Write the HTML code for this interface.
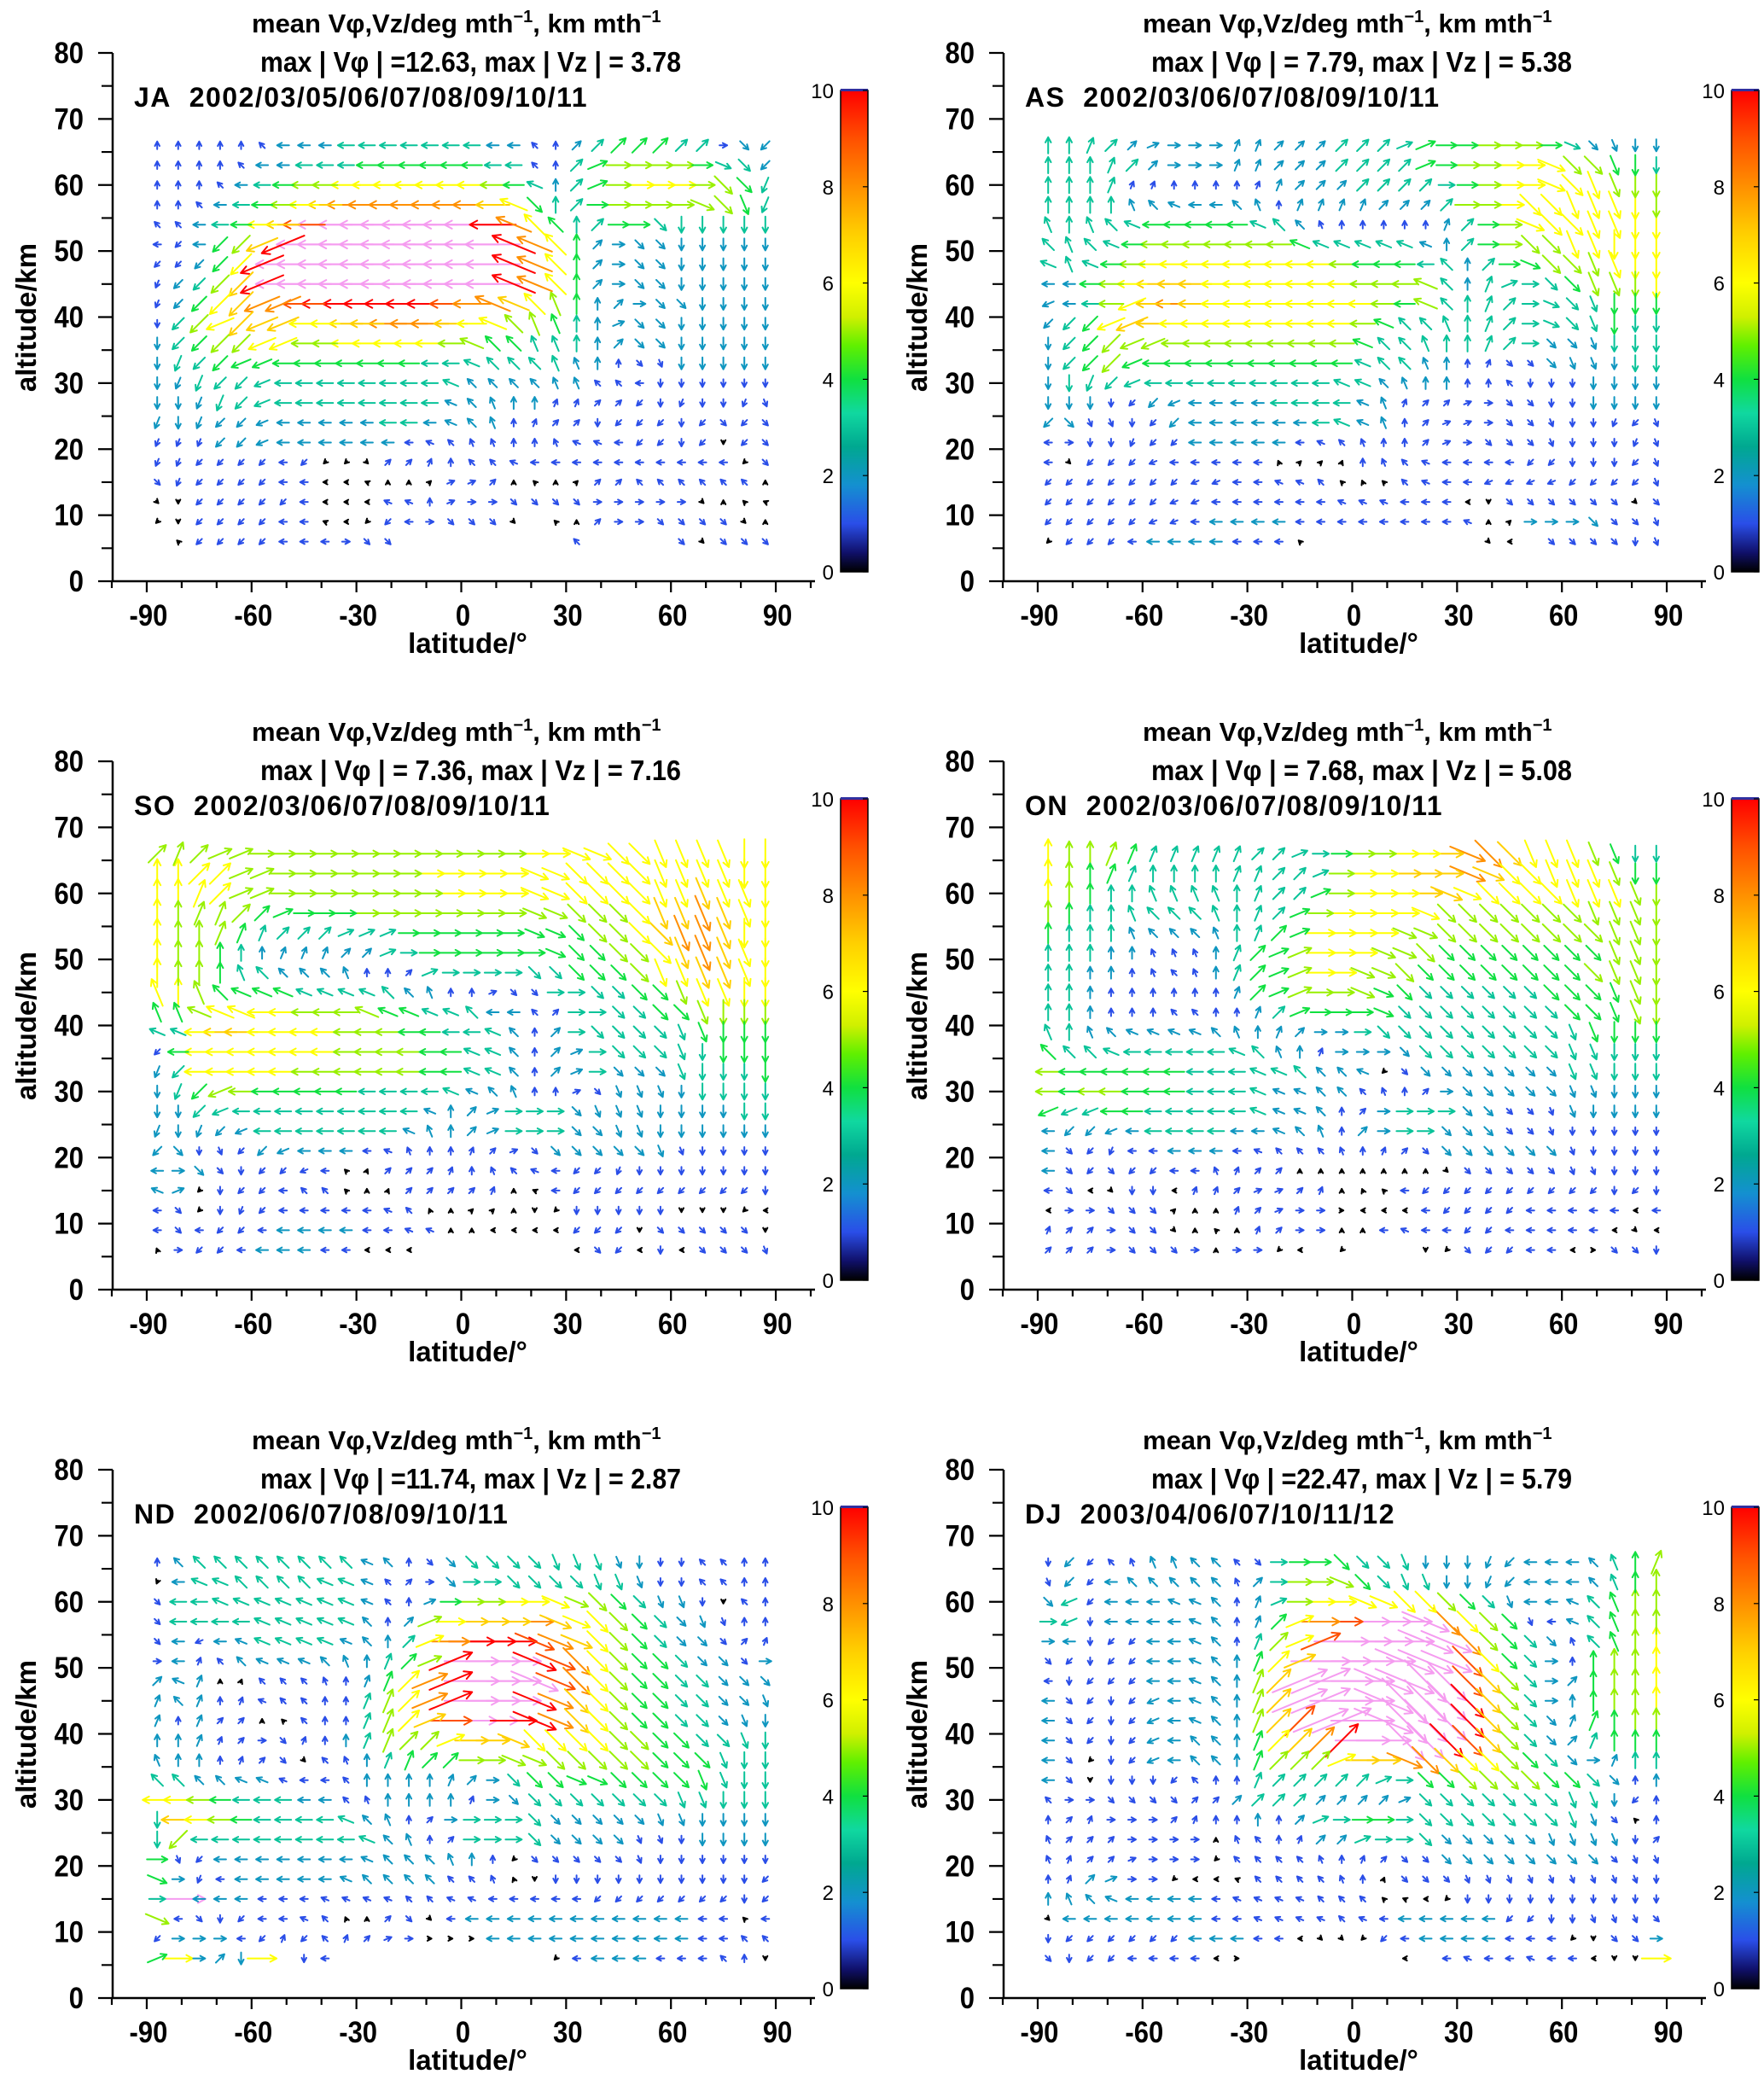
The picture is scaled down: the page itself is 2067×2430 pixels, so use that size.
<!DOCTYPE html>
<html><head><meta charset="utf-8"><title>Mean meridional circulation</title>
<style>
html,body{margin:0;padding:0;background:#fff;}
svg{display:block;font-family:"Liberation Sans",Arial,sans-serif;}
</style></head>
<body>
<svg id="chart" xmlns="http://www.w3.org/2000/svg" width="2067" height="2430" viewBox="0 0 2067 2430">
<defs>
<linearGradient id="cbgrad" x1="0" y1="1" x2="0" y2="0">
<stop offset="0" stop-color="#000000"/><stop offset="0.04" stop-color="#10106a"/><stop offset="0.1" stop-color="#2a4ee8"/>
<stop offset="0.18" stop-color="#1490d0"/><stop offset="0.26" stop-color="#00a890"/><stop offset="0.33" stop-color="#10d8a0"/>
<stop offset="0.4" stop-color="#10e040"/><stop offset="0.47" stop-color="#60f000"/><stop offset="0.53" stop-color="#d0f000"/>
<stop offset="0.6" stop-color="#ffff00"/><stop offset="0.7" stop-color="#ffd000"/><stop offset="0.8" stop-color="#ff9000"/>
<stop offset="0.9" stop-color="#ff5000"/><stop offset="1" stop-color="#ff0000"/>
</linearGradient>
</defs>
<rect x="0" y="0" width="2067" height="2430" fill="#fff"/>
</svg>
<script>
const lats = [-87,-81,-75,-69,-63,-57,-51,-45,-39,-33,-27,-21,-15,-9,-3,3,9,15,21,27,33,39,45,51,57,63,69,75,81,87];
const alts = [66,63,60,57,54,51,48,45,42,39,36,33,30,27,24,21,18,15,12,9,6];
const xTicks = [-90,-60,-30,0,30,60,90];
const yTicks = [0,10,20,30,40,50,60,70,80];
const cbTicks = [0,2,4,6,8,10];
const panelCodes = ['JA','AS','SO','ON','ND','DJ'];
const yearLists = ['2002/03/05/06/07/08/09/10/11','2002/03/06/07/08/09/10/11','2002/03/06/07/08/09/10/11','2002/03/06/07/08/09/10/11','2002/06/07/08/09/10/11','2003/04/06/07/10/11/12'];
const maxVphi = ['12.63',' 7.79',' 7.36',' 7.68','11.74','22.47'];
const maxVz = ['3.78','5.38','7.16','5.08','2.87','5.79'];

// token: direction (hex, 22.5deg steps CCW from east) + magnitude (base36)
const jaRows = [
"41 41 41 41 41 61 82 82 82 83 83 83 83 83 83 83 82 82 61 41 22 23 24 24 24 23 23 01 e2 a2",
"41 41 41 41 61 82 82 83 83 83 84 84 84 84 84 84 83 83 61 41 23 14 05 05 05 05 04 f3 e3 a2",
"41 41 41 61 82 83 84 85 85 86 86 86 86 86 86 86 85 84 73 42 23 14 05 06 06 06 05 e5 e4 b3",
"41 41 61 82 83 84 85 86 87 88 88 88 88 88 88 88 87 76 e4 43 23 04 05 05 05 05 f5 e5 d4 b3",
"61 61 82 83 84 86 87 89 8c 8c 8c 8c 8c 8c 8c 8c 8a 78 66 64 43 23 04 04 e3 c3 c3 c3 c3 c3",
"81 a1 82 a4 a5 97 9a 8c 8c 8c 8c 8c 8c 8c 8c 8c 8c 7a 78 66 44 22 02 e2 e2 c2 c2 c2 c2 c2",
"a1 a1 a2 a4 a6 9a 8c 8c 8c 8c 8c 8c 8c 8c 8c 8c 8c 7a 78 66 44 22 02 e2 e2 c2 c2 c2 c2 c2",
"b1 a2 a3 a5 a7 9a 8c 8c 8c 8c 8c 8c 8c 8c 8c 8c 8c 7a 78 66 44 22 02 e2 e2 c2 c2 c2 c2 c2",
"b1 a2 a4 a6 a7 98 98 89 8a 8a 8a 8a 8a 8a 89 88 78 77 66 55 44 42 22 02 e2 e2 c2 c2 c2 c2",
"c1 a3 a5 96 a7 97 97 86 86 87 87 88 88 88 87 86 76 65 55 54 43 42 12 e2 e2 c2 c2 c2 c2 c2",
"c2 a3 a4 a5 a5 96 96 85 85 86 86 86 86 86 85 75 64 64 53 53 43 42 22 e2 e2 c2 c2 c2 c2 c2",
"c2 b3 a3 a4 94 94 84 84 84 84 84 84 84 83 83 73 63 63 63 53 52 42 41 e1 d1 c2 c2 c2 c2 c2",
"c2 b2 b3 a3 a3 93 83 83 83 83 83 83 83 83 73 62 62 62 62 52 52 61 61 81 c1 c1 c1 c1 c1 c1",
"c2 c2 b2 b3 a3 93 83 83 83 83 83 83 83 83 72 62 52 42 42 31 31 21 21 a1 c1 b1 c1 c1 b1 d1",
"b2 c2 b2 a2 a2 92 82 82 82 82 82 83 83 82 72 62 52 41 31 21 21 c1 a1 a1 a1 c1 a1 e1 a1 e1",
"b1 b1 b1 a2 a2 92 82 82 82 82 82 82 81 71 61 51 51 41 41 51 71 71 81 a1 a1 c1 a1 c0 a1 e1",
"b1 b1 a1 a1 a1 a1 81 a1 a0 a0 e0 21 21 31 41 61 61 71 81 81 81 81 81 81 81 81 81 81 a0 e1",
"e1 b1 a1 a1 a1 a1 81 81 80 80 70 40 40 20 11 11 21 40 60 40 20 21 21 61 61 61 61 61 61 40",
"e0 c0 a1 a1 a1 a1 a1 81 80 80 80 71 71 41 11 01 01 e1 e1 e1 e1 01 01 01 01 01 e0 40 60 70",
"a0 c0 a1 a1 a1 a1 81 81 70 80 a0 a1 81 01 e1 e1 e1 e0 .. 60 40 21 01 01 e1 e1 e1 e1 e0 40",
".. 60 a1 a1 a1 a1 81 81 81 01 e1 e1 .. .. .. .. .. .. .. .. 61 .. .. .. .. e1 e0 e1 e1 e1"];
const asRows = [
"43 43 33 23 22 12 02 02 02 32 32 22 22 22 23 23 23 13 14 04 04 05 05 05 04 f3 e2 d2 c2 c2",
"43 43 43 33 23 22 02 02 02 32 32 22 22 22 23 23 23 23 14 04 05 05 06 06 f6 e5 e5 d4 c4 c3",
"43 43 43 33 31 31 41 41 41 41 31 32 22 22 22 23 23 23 23 03 04 05 06 06 f6 e6 d6 d5 c5 c5",
"43 43 43 43 52 62 72 82 82 62 52 41 32 32 32 32 22 22 22 23 05 05 06 e6 e6 d6 d6 d6 c6 c5",
"53 43 53 63 73 84 84 84 84 84 73 63 62 51 41 41 41 41 41 32 23 04 05 f6 e6 e6 d6 d6 c6 c6",
"63 53 63 73 84 85 85 85 85 85 85 85 74 73 73 73 73 73 72 42 23 04 05 e5 e5 d6 d6 c6 c6 c6",
"73 53 73 84 85 86 86 86 86 86 86 86 86 86 85 84 84 84 83 63 42 23 04 f4 e5 e5 d5 d6 c6 c6",
"82 82 84 85 86 87 87 87 86 86 86 86 86 86 86 85 85 85 75 63 42 33 13 03 e3 e4 d5 d5 c5 c6",
"92 82 83 85 96 87 88 87 86 86 86 86 86 86 86 86 85 84 75 63 43 33 23 03 f3 e3 d3 c4 c4 c4",
"a2 a3 a4 96 97 87 86 86 86 86 86 86 86 86 86 85 74 63 63 53 43 33 23 03 f3 e3 d3 c4 c3 c3",
"c2 a3 a4 a5 95 95 85 85 85 85 85 85 85 85 85 74 63 63 53 43 43 33 23 03 e2 e2 d2 c3 c3 c3",
"c2 a3 a4 a5 94 84 84 84 84 84 84 84 84 84 84 73 63 63 52 42 41 31 e1 e1 e2 d2 d2 c2 c3 c3",
"c2 c3 b3 a3 93 83 83 83 83 83 83 83 83 83 73 73 62 52 42 42 41 41 61 c1 c1 c1 c2 c2 c2 c2",
"c2 c2 c2 c1 a1 a2 92 82 82 82 82 83 83 83 83 72 52 31 21 21 11 01 e1 e1 c1 c1 c2 c2 c2 c2",
"a2 e2 d1 d1 c1 a1 a2 82 82 82 82 82 82 83 73 72 52 41 21 11 11 01 e1 e1 d1 c1 c1 b1 a1 d1",
"81 01 c1 c1 b1 a1 a1 82 82 82 82 82 81 71 61 51 41 41 21 11 01 e1 e1 e1 d1 c1 c1 c1 b1 d1",
"81 e0 a1 a1 a1 91 81 81 81 81 81 50 20 20 30 41 51 61 71 81 81 81 81 a1 a1 c1 c1 c1 a1 d1",
"a1 a1 a1 a1 a1 a1 a1 91 91 81 81 71 71 61 60 50 60 61 71 81 81 91 91 91 91 a1 a1 a1 a1 d1",
"a1 a1 a1 a1 a1 a1 91 91 81 81 81 81 81 81 71 71 71 81 81 81 80 c0 e1 e1 e1 e1 e1 e1 e0 e1",
"a1 a1 a1 a1 a1 91 91 81 82 82 82 82 81 81 81 81 81 81 81 81 71 40 20 02 02 02 e2 e1 e1 d1",
"a0 a1 a1 a1 81 82 82 82 82 81 81 81 60 .. .. .. .. .. .. .. .. e0 80 .. e1 e1 e1 e1 c1 d1"];
const soRows = [
"25 35 25 15 15 05 05 05 05 05 05 05 05 05 05 05 05 05 06 06 f6 f6 e6 e6 d6 d6 d6 d6 c6 c6",
"46 46 26 26 15 15 05 05 05 05 05 05 05 06 06 06 06 06 f6 f6 e6 e6 e6 e6 d6 d6 d6 d6 c6 c6",
"46 46 36 26 15 15 05 05 05 05 05 05 05 05 06 06 06 06 f6 f6 e6 e6 e6 e6 d6 d6 d7 d6 d6 c6",
"46 45 35 35 25 24 14 04 04 04 05 05 05 05 05 05 05 05 f5 f5 e5 e5 e5 e6 d7 d7 d8 d7 d6 c6",
"46 45 45 35 34 33 23 23 23 13 13 13 04 04 04 04 04 04 f4 f4 e4 e5 e5 e6 e7 d8 d8 d7 c6 c6",
"46 45 45 44 43 42 32 32 32 22 22 13 03 04 04 04 04 04 04 f4 e4 e4 e5 e5 e6 d7 d8 d7 d6 c6",
"46 45 45 44 53 63 62 62 62 52 41 41 21 13 03 03 03 03 e3 e3 e4 e4 e4 e5 d6 d6 d7 d7 d6 c6",
"56 46 55 64 74 74 74 73 73 73 73 63 62 52 41 41 11 e1 e1 03 03 e3 e3 e4 e4 d5 d6 d6 c6 c6",
"54 54 75 76 76 86 86 85 85 85 75 74 74 73 73 63 82 82 61 21 03 03 e3 e3 e4 e4 d5 c5 c5 c5",
"73 73 86 87 87 86 86 86 86 85 85 85 84 84 83 83 73 62 41 22 03 e3 e3 e3 e3 d3 d4 c4 c4 c4",
"a1 84 86 86 86 86 86 86 86 85 85 85 85 84 84 73 73 62 41 22 12 03 e3 e3 e3 d3 c3 c4 c4 c4",
"b2 a3 86 86 86 86 86 85 85 85 85 85 85 84 84 73 73 62 41 22 12 03 e2 e2 e2 d3 c3 c3 c3 c4",
"c2 b3 a4 95 85 84 84 84 84 84 83 83 83 83 73 72 62 52 41 41 11 e1 d2 d2 d2 c2 c3 c3 c3 c3",
"c2 c2 a3 93 83 83 83 83 83 83 83 83 83 72 42 22 12 03 03 03 e2 d2 d2 d2 c2 c2 c2 c2 c3 c3",
"b2 c2 b2 a2 92 83 83 83 83 83 83 83 72 52 42 22 12 03 03 03 e2 e2 d2 d2 c2 c2 c2 c2 c2 c2",
"a2 e2 c1 d1 a1 a2 92 82 82 82 81 71 51 41 41 31 21 11 e1 e2 e2 e2 e2 e2 d2 d1 c1 c1 c1 c1",
"82 02 e2 e1 c1 a1 a1 91 81 60 30 21 21 21 31 41 51 61 71 81 a1 a1 b1 c1 c1 c1 c1 c1 c1 c1",
"72 12 a0 c1 a1 a1 81 61 61 60 40 30 21 21 21 21 31 40 70 81 a1 a1 a1 a1 a1 a1 a1 a1 a1 c1",
"81 e1 a0 c1 b1 a1 81 81 81 81 81 71 61 50 40 20 20 40 c0 a0 c1 c1 c1 c1 c1 c0 c0 c0 a0 80",
"81 e1 81 a1 a1 81 82 82 82 82 81 81 71 71 40 40 80 80 80 80 a1 a1 a1 c0 e1 e1 e1 e1 e1 c0",
"50 01 a1 a1 81 82 82 82 81 81 80 80 80 .. .. .. .. .. .. .. 80 e1 a1 80 c1 80 e1 e1 e1 d1"];
const onRows = [
"46 45 45 35 34 33 33 33 33 33 23 23 13 03 04 05 05 06 06 07 f8 e8 e7 d6 d6 d6 d5 d4 c3 c3",
"46 45 44 34 33 43 43 43 43 33 33 23 23 13 05 06 06 07 07 07 f8 f7 e6 e6 d6 d6 d6 d5 c4 c4",
"46 45 44 43 43 53 53 53 53 43 33 23 23 14 05 06 06 06 07 f7 f6 e6 e6 e6 e6 d6 d6 d6 d5 c5",
"45 44 43 43 53 63 63 63 53 43 33 23 14 05 06 06 06 06 f6 e5 e5 e5 e5 e5 e5 e5 d5 d5 d5 c5",
"44 43 43 43 52 62 62 62 52 43 33 24 14 06 06 06 06 f5 f5 e5 e5 e5 e5 e5 e5 e5 e5 d5 d5 c5",
"43 43 43 42 42 51 51 51 42 33 24 14 15 06 06 06 f5 f5 e5 e4 e4 e4 e4 e4 e4 e4 e4 d5 d5 c5",
"43 43 42 42 41 51 61 51 42 33 24 14 15 06 06 f5 f5 e5 e4 e4 e4 e4 e4 e4 e4 e4 e5 d5 d5 c5",
"43 43 42 41 41 41 41 41 41 32 24 14 15 05 05 f5 f4 e4 e3 e3 e3 e3 e3 e3 e4 e4 e4 d4 d5 c5",
"43 43 42 41 41 41 61 61 41 41 32 23 14 04 04 04 f4 e3 e3 e3 e3 e3 e3 e3 e3 e4 e4 d4 d5 c5",
"53 43 52 62 72 72 72 72 62 52 42 32 22 02 02 03 e3 e3 e3 e3 e3 e3 e3 e3 e3 d3 d4 c4 c4 c4",
"64 63 63 73 83 83 83 83 83 73 63 52 42 31 02 02 02 e2 e3 e3 e3 e3 e3 e3 e3 d3 d3 c3 c3 c3",
"85 84 84 84 84 84 84 83 83 83 73 73 63 62 62 72 a0 e1 e2 e2 e2 e2 e2 e2 e2 d3 d3 c3 c3 c3",
"85 84 85 85 84 84 84 83 83 83 73 72 72 62 62 61 51 41 21 02 e2 e2 e2 e2 e2 d2 d2 c2 c2 c2",
"94 93 93 84 84 83 83 83 83 83 73 72 72 62 41 21 02 03 03 03 e2 e2 e1 e1 d1 d2 c2 c2 c2 c2",
"82 a2 a2 92 82 83 83 83 83 82 82 72 62 52 41 22 02 03 03 e2 e2 e2 e1 e1 d1 c1 c1 c1 c1 c1",
"82 e1 a1 b1 81 81 82 82 82 81 71 61 61 61 51 41 31 21 e1 e2 e2 e2 e2 e2 e2 d1 c1 c1 c1 c1",
"82 e1 a1 e1 a1 a1 81 81 51 31 21 21 40 40 40 40 40 40 40 e0 e1 e1 e1 e1 e1 d1 d1 c1 c1 c1",
"81 e1 80 e0 c1 c1 80 31 31 21 11 11 21 31 40 50 60 81 a1 a1 a1 a1 a1 a1 a1 a1 a1 c1 a1 c1",
"80 01 01 e1 e1 e1 20 40 40 31 21 11 01 01 00 80 80 80 81 a1 a1 a1 a1 81 81 81 81 81 80 81",
"31 21 21 01 e1 e1 e0 40 60 40 31 21 01 01 40 40 81 71 81 81 a1 a1 81 81 81 81 81 80 e0 80",
"21 21 21 01 e1 e1 e1 01 40 01 01 a0 80 .. a0 .. .. .. c0 a0 e1 a1 a1 81 81 80 00 e1 e1 c1"];
const ndRows = [
"41 62 63 63 63 63 63 63 63 63 72 62 41 e1 e2 e3 e3 e3 e3 d3 d3 d3 d2 c2 c1 c1 61 61 41 41",
"b0 82 73 73 63 63 63 63 73 73 72 61 21 01 e2 03 03 e3 e3 e3 e3 d3 d3 d2 c1 c1 61 61 41 41",
"e1 83 83 73 73 73 73 73 73 73 72 61 41 12 04 05 05 06 06 f6 f5 e5 e4 e3 d2 d2 c1 c0 61 41",
"e1 83 83 83 83 73 73 73 73 73 62 41 22 15 06 07 07 07 08 f7 f6 e6 e5 e4 e3 e2 d2 d1 41 41",
"e1 82 91 82 72 73 73 73 73 72 62 42 23 16 08 0a 0a 0a f9 f8 f7 e6 e5 e4 e3 e2 e2 e1 21 31",
"01 82 31 61 62 72 72 72 62 52 42 33 24 15 1a 0c 0c 0c fa f9 e8 e6 e5 e4 e4 e3 e2 e2 e1 02",
"22 72 32 40 30 61 61 61 51 41 32 34 26 18 1a 0c 0c 0c fb f9 e8 e6 e5 e4 e4 e3 e3 e2 e2 e2",
"32 62 32 41 31 71 61 61 41 41 33 35 26 18 1a 0c 0c 0c fa f8 e7 e6 e5 e4 e4 e3 e3 e2 e2 d2",
"32 41 32 21 21 40 60 61 41 41 33 35 26 17 09 0b 0b 0a fa f8 e7 e6 e5 e4 e4 e3 e3 e2 d2 c2",
"42 42 32 31 21 01 e1 31 41 42 33 35 25 25 16 07 07 f7 e6 e6 e6 e6 e5 e5 e4 e4 e3 e3 d3 c3",
"52 42 42 41 31 21 e1 e0 61 51 42 33 34 24 24 05 05 f5 f5 e5 e5 e5 e5 e5 e4 e4 e4 d3 c3 c3",
"63 63 62 62 72 72 71 81 81 61 42 42 42 42 32 22 02 e3 e4 e4 f4 f4 e4 e4 e4 e4 d4 d3 c3 c3",
"86 86 85 84 83 83 83 82 82 61 51 42 42 42 42 31 02 e2 e3 e3 e3 e3 e3 e3 e3 d3 d3 c3 c3 c3",
"c3 87 86 85 84 83 83 83 83 73 62 52 41 21 02 03 03 03 e3 e2 e2 e2 e2 e2 d2 d2 c2 c2 c2 c2",
"c3 a5 83 83 83 83 83 83 83 83 73 62 52 41 21 03 03 03 e3 e2 e2 e2 e2 d1 d1 c1 c2 c2 c2 c2",
"04 d1 a1 82 82 82 82 82 82 82 72 62 62 62 52 42 41 a0 e1 e1 e1 e1 e1 d1 c1 c1 c1 c1 c1 c1",
"f4 02 b1 81 82 82 82 82 82 72 62 62 62 62 61 61 51 50 c0 c1 c1 c1 c1 c1 c1 c1 c1 c1 c1 a1",
"03 0c 82 82 82 81 81 81 71 71 71 71 61 61 71 71 81 81 81 81 81 a1 a1 a1 a1 a1 a1 a1 c1 a1",
"f5 81 e1 c1 a1 81 81 71 61 50 40 21 e1 e0 81 82 82 82 82 82 82 82 82 82 82 82 81 81 60 81",
"a1 02 02 02 81 a1 31 a1 61 31 21 11 01 00 00 00 82 82 82 82 82 82 82 82 82 82 81 81 61 61",
"14 06 02 22 c2 06 .. c1 81 .. .. .. .. .. .. .. .. .. .. a0 81 82 82 82 81 81 81 61 41 c0"];
const djRows = [
"c1 a2 a1 61 51 52 52 62 62 61 e1 03 04 04 e4 e3 e3 d3 c2 c2 c2 b2 a2 82 82 82 62 53 44 35",
"d1 a2 a1 82 62 62 62 62 62 51 22 03 05 05 f5 e4 e3 d3 d3 c2 c2 b2 a2 82 82 82 62 53 44 45",
"e2 93 a1 82 82 82 72 72 62 41 32 13 05 06 06 f6 f6 e6 e6 e5 e4 e3 d2 82 82 72 63 54 45 45",
"03 93 c1 82 82 82 82 72 62 41 32 24 16 08 09 0c 0c 0c fb e8 e6 e5 e4 d1 81 72 63 54 45 45",
"02 82 c1 a1 a1 82 82 72 62 41 33 25 16 19 0c 0d 0d 0d fd fc e8 e5 e4 e3 e2 51 63 54 45 46",
"e1 a1 c1 a1 a1 82 82 72 62 42 34 26 17 0d 0d 0e 0e fe fd fc e9 e6 e4 e3 02 41 44 45 45 46",
"81 c1 a1 a1 a1 82 82 72 62 42 35 27 1d 1e 0e 0e fe fe ed ec e9 e7 e5 e3 02 22 44 45 45 46",
"82 e1 a1 c1 a1 92 82 72 62 42 35 27 1d 1e 0e 0e fe ee ed ec ea e7 e5 e3 02 42 44 45 45 46",
"82 e1 a1 c1 a1 92 82 72 62 42 35 27 29 1d 1e 0e fe ee ed ec ea e7 e5 e3 e2 32 34 44 45 45",
"82 e1 a1 c1 a1 92 82 62 62 42 34 26 27 28 2a 0c 0c ec eb ea e9 e7 e5 e3 e2 22 33 44 44 44",
"82 e1 a0 c1 a1 92 82 62 62 42 34 25 25 25 16 07 07 f8 e8 e7 e6 e6 e5 e4 e3 e2 02 32 43 43",
"82 e1 c0 c1 c1 c1 a1 61 41 41 33 23 23 23 23 23 13 03 e4 e4 e5 e5 e5 e5 e4 e4 e3 e2 41 42",
"61 01 01 e1 e1 e1 e1 21 21 22 23 23 23 22 22 22 22 12 e3 e3 e3 e3 e3 e3 e3 d3 d3 c2 a1 41",
"41 21 31 01 01 01 21 31 41 41 42 41 22 13 03 04 04 03 e3 e3 e3 e3 e3 e3 e3 d3 d2 e1 60 41",
"51 21 21 21 01 01 01 01 40 51 61 41 31 22 22 13 03 03 e3 e2 e2 e2 e2 e2 d2 d2 d2 d2 c1 21",
"51 31 21 21 11 01 01 01 a0 61 61 61 61 51 41 31 21 e1 e1 e2 e2 e2 e2 e2 e2 e2 e2 e1 d1 d1",
"41 31 22 12 01 01 a0 80 80 70 61 61 61 61 51 41 30 e1 e1 e1 d1 d1 d1 d1 d1 d1 d1 d1 d1 c1",
"42 52 62 72 82 82 82 82 81 71 71 71 71 61 61 61 60 70 80 a0 c1 c1 c1 c1 c1 c1 c1 c1 c1 c1",
"e0 82 82 82 82 82 82 82 81 81 71 71 71 71 61 71 81 82 82 82 82 82 a1 a1 c1 c1 d1 d1 d1 e1",
"c1 a1 a1 a1 a1 a1 a1 82 82 82 81 81 80 e0 e0 a0 a1 81 82 82 82 82 81 81 81 a0 c0 e1 e1 02",
"e1 c1 a1 a1 81 81 81 81 80 00 .. .. .. .. .. .. .. 80 .. 81 71 81 81 71 81 81 80 c0 c0 06"];

const panelRows = [jaRows, asRows, soRows, onRows, ndRows, djRows];
const panelOrigins = [[0,0],[1044,0],[0,830],[1044,830],[0,1660],[1044,1660]];

const NS = 'http://www.w3.org/2000/svg';
const svg = document.getElementById('chart');
const FONT = '"Liberation Sans", "DejaVu Sans", sans-serif';

const cstops = [[0,[0,0,0]],[0.4,[16,16,106]],[1,[42,78,232]],[1.8,[20,144,208]],[2.6,[0,168,144]],[3.3,[16,216,160]],[4,[16,224,64]],[4.7,[96,240,0]],[5.3,[208,240,0]],[6,[255,255,0]],[7,[255,208,0]],[8,[255,144,0]],[9,[255,80,0]],[10,[255,0,0]]];
function magColor(m){
  if (m > 10) return '#f59cf0';
  for (let i = 1; i < cstops.length; i++) {
    if (m <= cstops[i][0]) {
      const a = cstops[i-1], b = cstops[i];
      const t = (m - a[0]) / (b[0] - a[0]);
      const c = a[1].map((v, k) => Math.round(v + (b[1][k] - v) * t));
      return 'rgb(' + c.join(',') + ')';
    }
  }
  return '#ff0000';
}
function mk(tag, attrs, parent){
  const e = document.createElementNS(NS, tag);
  for (const k in attrs) e.setAttribute(k, attrs[k]);
  (parent || svg).appendChild(e);
  return e;
}
function numWidth(s){
  let w = 0;
  for (const ch of String(s)) w += (ch === '-' ? 0.333 : 0.556);
  return w * 31;
}

panelRows.forEach((rows, pi) => {
  const ox = panelOrigins[pi][0], oy = panelOrigins[pi][1];
  const xs = lat => ox + 131 + (lat + 100) * 4.095;
  const ys = alt => oy + 681 - alt * 7.7375;
  const g = mk('g', {});
  
  

  const t1 = mk('text', {x: ox + 295, y: oy + 38, 'font-family': FONT, 'font-weight': 'bold', 'font-size': 31, fill: '#000'}, g);
  
  
  t1.innerHTML = 'mean Vφ,Vz/deg mth<tspan dy="-12" font-size="20">−1</tspan><tspan dy="12">, km mth</tspan><tspan dy="-12" font-size="20">−1</tspan>';
  const t2 = mk('text', {x: ox + 305, y: oy + 84, 'font-family': FONT, 'font-weight': 'bold', 'font-size': 33, textLength: 493, lengthAdjust: 'spacingAndGlyphs', fill: '#000'}, g);
  
  
  t2.textContent = 'max | Vφ | =' + maxVphi[pi] + ', max | Vz | = ' + maxVz[pi];
  const t3 = mk('text', {x: ox + 157, y: oy + 125, 'font-family': FONT, 'font-weight': 'bold', 'font-size': 32, 'letter-spacing': 1.5, fill: '#000'}, g);
  
  
  t3.textContent = panelCodes[pi] + '\u00a0 ' + yearLists[pi];

  const ax = mk('path', {d: 'M' + (ox+132) + ' ' + (oy+62) + ' V' + (oy+681) + ' H' + (ox+955), stroke: '#000', 'stroke-width': 2.5, fill: 'none'}, g);
  
  
  let td = '';
  for (let a = 0; a <= 80; a += 5) {
    const y = ys(a);
    td += 'M' + (ox + (a % 10 === 0 ? 115 : 119)) + ' ' + y + ' H' + (ox + 132) + ' ';
  }
  for (let l = -100; l <= 100; l += 10) {
    const x = xs(l);
    td += 'M' + x + ' ' + (oy + 681) + ' V' + (oy + 681 + (l % 30 === 0 ? 13 : 8)) + ' ';
  }
  const tk = mk('path', {d: td, stroke: '#000', 'stroke-width': 2.2, fill: 'none'}, g);
  
  

  yTicks.forEach(v => {
    const t = mk('text', {x: ox + 98, y: ys(v) + 12, 'text-anchor': 'end', 'font-family': FONT, 'font-weight': 'bold', 'font-size': 35, textLength: numWidth(v), lengthAdjust: 'spacingAndGlyphs'}, g);
    
    
    t.textContent = v;
  });
  xTicks.forEach(v => {
    const t = mk('text', {x: xs(v) + 2, y: oy + 733, 'text-anchor': 'middle', 'font-family': FONT, 'font-weight': 'bold', 'font-size': 35, textLength: numWidth(v), lengthAdjust: 'spacingAndGlyphs'}, g);
    
    
    t.textContent = v;
  });
  const xl = mk('text', {x: ox + 548, y: oy + 765, 'text-anchor': 'middle', 'font-family': FONT, 'font-weight': 'bold', 'font-size': 33}, g);
  
  
  xl.textContent = 'latitude/°';
  const yl = mk('text', {x: 0, y: 0, transform: 'translate(' + (ox + 42) + ',' + (oy + 372) + ') rotate(-90)', 'text-anchor': 'middle', 'font-family': FONT, 'font-weight': 'bold', 'font-size': 33}, g);
  
  
  yl.textContent = 'altitude/km';

  const cb = mk('rect', {x: ox + 985, y: oy + 106, width: 32, height: 564, fill: 'url(#cbgrad)', stroke: '#000', 'stroke-width': 1.5}, g);
  
  
  const cbt = mk('rect', {x: ox + 985, y: oy + 104, width: 32, height: 3, fill: '#3030a0'}, g);
  
  
  cbTicks.forEach(v => {
    const y = oy + 670 - v / 10 * 564;
    const t = mk('text', {x: ox + 977, y: y + 9, 'text-anchor': 'end', 'font-family': FONT, 'font-size': 24}, g);
    
    
    t.textContent = v;
    const tl = mk('line', {x1: ox + 1011, x2: ox + 1017, y1: y, y2: y, stroke: '#000', 'stroke-width': 1.2}, g);
    
    
  });

  const vecs = [];
  rows.forEach((row, ri) => {
    row.trim().split(/\s+/).forEach((tok, ci) => {
      if (tok === '..' || ci >= lats.length) return;
      vecs.push({lat: lats[ci], alt: alts[ri], dir: parseInt(tok[0], 16), mag: parseInt(tok[1], 36)});
    });
  });
  vecs.sort((a, b) => b.mag - a.mag);
  const vg = mk('g', {fill: 'none', 'stroke-width': 2, 'stroke-linecap': 'round', 'stroke-linejoin': 'round'}, g);
  
  
  vecs.forEach(v => {
    const cx = xs(v.lat), cy = ys(v.alt);
    const ang = v.dir * 22.5 * Math.PI / 180;
    const dx = Math.cos(ang), dy = -Math.sin(ang);
    const L = 4 + v.mag * 5;
    const h = Math.min(10, 5 + 0.1 * L);
    const x0 = cx - dx * L / 2, y0 = cy - dy * L / 2, x1 = cx + dx * L / 2, y1 = cy + dy * L / 2;
    const ha = 28 * Math.PI / 180;
    const b = Math.atan2(dy, dx) + Math.PI;
    const hx1 = x1 + h * Math.cos(b + ha), hy1 = y1 + h * Math.sin(b + ha);
    const hx2 = x1 + h * Math.cos(b - ha), hy2 = y1 + h * Math.sin(b - ha);
    const p = mk('path', {d: 'M' + x0.toFixed(1) + ' ' + y0.toFixed(1) + 'L' + x1.toFixed(1) + ' ' + y1.toFixed(1) + 'M' + hx1.toFixed(1) + ' ' + hy1.toFixed(1) + 'L' + x1.toFixed(1) + ' ' + y1.toFixed(1) + 'L' + hx2.toFixed(1) + ' ' + hy2.toFixed(1), stroke: magColor(v.mag)}, vg);
    
    
  });
});
</script>
</body></html>
